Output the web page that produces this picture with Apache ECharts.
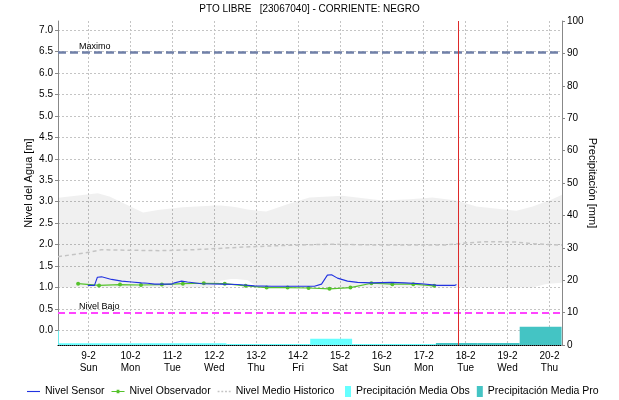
<!DOCTYPE html>
<html>
<head>
<meta charset="utf-8">
<title>PTO LIBRE - CORRIENTE: NEGRO</title>
<script src="https://cdn.jsdelivr.net/npm/echarts@6.0.0/dist/echarts.min.js"></script>
<style>
  html, body { margin: 0; padding: 0; background: #fff; }
  #chart { width: 619px; height: 400px; }
</style>
</head>
<body>
<div id="chart"></div>
<script>
// ===== datos (dia del mes de febrero, 9 = 9-2 00:00) =====
const tickDays = [9, 10, 11, 12, 13, 14, 15, 16, 17, 18, 19, 20];
const tickDates = ['9-2', '10-2', '11-2', '12-2', '13-2', '14-2', '15-2', '16-2', '17-2', '18-2', '19-2', '20-2'];
const tickWeekdays = ['Sun', 'Mon', 'Tue', 'Wed', 'Thu', 'Fri', 'Sat', 'Sun', 'Mon', 'Tue', 'Wed', 'Thu'];
const levelTicks = [0, 0.5, 1, 1.5, 2, 2.5, 3, 3.5, 4, 4.5, 5, 5.5, 6, 6.5, 7];

// nivel sensor [m]
const sensorDays = [8.98, 9.14, 9.21, 9.31, 9.55, 9.79, 10.03, 10.26, 10.41, 10.58, 10.98, 11.05, 11.22, 11.36, 11.70,
  12.17, 12.56, 12.96, 13.37, 13.75, 14.23, 14.39, 14.56, 14.70, 14.80, 14.94, 15.18, 15.42, 15.75, 16.23, 16.54,
  16.95, 17.33, 17.74, 17.78];
const sensorLevels = [1.05, 1.05, 1.24, 1.25, 1.19, 1.15, 1.13, 1.11, 1.10, 1.08, 1.08, 1.11, 1.15, 1.13, 1.09,
  1.08, 1.07, 1.04, 1.03, 1.03, 1.03, 1.03, 1.08, 1.29, 1.30, 1.22, 1.15, 1.12, 1.11, 1.12, 1.11,
  1.09, 1.05, 1.05, 1.07];

// nivel observador [m] (lecturas 6:00 y 18:00)
const obsDays = [8.75, 9.25, 9.75, 10.25, 10.75, 11.25, 11.75, 12.25, 12.75, 13.25, 13.75, 14.25, 14.75, 15.25,
  15.75, 16.25, 16.75, 17.25];
const obsLevels = [1.09, 1.05, 1.07, 1.06, 1.07, 1.09, 1.10, 1.09, 1.04, 1.00, 1.00, 0.99, 0.97, 1.00,
  1.10, 1.08, 1.08, 1.04];

// nivel medio historico [m]
const meanDays = [8.27, 9.0, 9.3, 10.7, 11.5, 12.05, 12.85, 13.65, 14.77, 16.0, 17.5, 18.0, 18.5, 19.2, 19.6, 20.3];
const meanLevels = [1.72, 1.82, 1.88, 1.86, 1.88, 1.91, 1.95, 1.98, 2.01, 1.99, 1.99, 2.04, 2.07, 2.06, 2.02, 1.99];

// banda historica (min / max) [m]
const histDays = [8.27, 9.22, 9.5, 10.3, 10.69, 11.24, 12.0, 12.15, 12.4, 12.53, 12.8, 13.05, 13.24, 13.8, 14.27,
  15.06, 16.02, 16.66, 17.21, 17.78, 18.26, 19.21, 19.6, 19.9, 20.0, 20.3];
const histHigh = [3.09, 3.2, 3.12, 2.75, 2.81, 2.87, 2.91, 2.91, 2.89, 2.87, 2.82, 2.79, 2.77, 2.96, 3.1,
  3.14, 3.03, 3.06, 3.1, 3.03, 2.89, 2.79, 2.89, 3.0, 3.03, 3.16];
const histLow = [1.0, 1.0, 1.0, 1.0, 1.0, 1.0, 1.0, 1.16, 1.2, 1.2, 1.17, 1.0, 1.0, 1.0, 1.0,
  1.0, 1.0, 1.0, 1.0, 1.0, 1.0, 1.0, 1.0, 1.08, 1.09, 1.11];

// precipitacion diaria (7:00 a 7:00) [mm]
const precObsStart = [7.29, 8.29, 9.29, 10.29, 11.29, 12.29, 13.29, 14.29, 15.29, 16.29];
const precObsValues = [4.5, 0.55, 0.55, 0.55, 0.55, 0.3, 0.3, 1.9, 0.3, 0.3];
const precProStart = [17.29, 18.29, 19.29];
const precProValues = [0.6, 0.6, 5.65];

const nivelMaximo = 6.48;
const nivelBajo = 0.42;
const ahora = 17.83;

// ===== construccion =====
const zip = (xs, ys) => xs.map((x, i) => [x, ys[i]]);
const FONT = "'Liberation Sans', Arial, sans-serif";
const GRID_LINE = { color: '#c4c4c4', type: [2, 2], width: 1 };
const LEGEND_TEXT = { fontSize: 10.5, color: '#000', fontFamily: FONT };

const precRender = (params, api) => {
  const start = api.coord([api.value(0), 0]);
  const end = api.coord([api.value(1), api.value(2)]);
  return {
    type: 'rect',
    shape: { x: start[0], y: end[1], width: end[0] - start[0], height: start[1] - end[1] },
    style: { fill: api.visual('color') }
  };
};

// banda historica como un solo poligono (max de ida, min de vuelta)
const bandRender = (params, api) => {
  if (params.dataIndex !== 0) return;
  const top = histDays.map((d, i) => api.coord([d, histHigh[i]]));
  const bottom = histDays.map((d, i) => api.coord([d, histLow[i]])).reverse();
  return {
    type: 'polygon',
    shape: { points: top.concat(bottom) },
    style: { fill: 'rgba(0, 0, 0, 0.06)' }
  };
};

const chart = echarts.init(document.getElementById('chart'));
chart.setOption({
  animation: false,
  textStyle: { fontFamily: FONT },
  title: {
    text: 'PTO LIBRE   [23067040] - CORRIENTE: NEGRO',
    left: 'center',
    top: 4,
    padding: 0,
    textStyle: { fontSize: 10, fontWeight: 'normal', color: '#000', fontFamily: FONT }
  },
  legend: [
    {
      data: [
        { name: 'Nivel Sensor', icon: 'path://M0,0H14V1.2H0Z' },
        { name: 'Nivel Observador', icon: 'path://M0,1.4H14V2.6H0ZM5.5,0H8.5V4H5.5Z' },
        { name: 'Nivel Medio Historico', icon: 'path://M0,0H2V1.4H0ZM4,0H6V1.4H4ZM8,0H10V1.4H8ZM12,0H14V1.4H12Z' }
      ],
      left: 27, top: 386, padding: 0,
      itemWidth: 13, itemHeight: 10, itemGap: 7,
      selectedMode: false,
      textStyle: LEGEND_TEXT
    },
    {
      data: ['Precipitación Media Obs', 'Precipitación Media Pro'],
      left: 345, top: 386, padding: 0,
      icon: 'rect', itemWidth: 6, itemHeight: 11, itemGap: 7,
      selectedMode: false,
      textStyle: LEGEND_TEXT
    }
  ],
  grid: { left: 58, right: 57, top: 21, bottom: 55 },
  xAxis: {
    type: 'value',
    min: 8.27,
    max: 20.3,
    axisLine: { onZero: false, lineStyle: { color: '#000', type: 'dotted', width: 1 } },
    axisTick: { show: false, customValues: tickDays },
    axisLabel: {
      customValues: tickDays,
      margin: 5,
      fontSize: 10,
      lineHeight: 12,
      color: '#000',
      formatter: v => {
        const i = tickDays.indexOf(v);
        return tickDates[i] + '\n' + tickWeekdays[i];
      }
    },
    splitLine: { show: true, lineStyle: GRID_LINE }
  },
  yAxis: [
    {
      type: 'value',
      min: -0.338,
      max: 7.21,
      position: 'left',
      name: 'Nivel del Agua [m]',
      nameLocation: 'middle',
      nameGap: 24,
      nameMoveOverlap: false,
      nameTextStyle: { fontSize: 11, color: '#000', fontFamily: FONT },
      axisLine: { show: true, lineStyle: { color: '#888' } },
      axisTick: { show: true, length: 3, customValues: levelTicks, lineStyle: { color: '#888' } },
      axisLabel: {
        customValues: levelTicks,
        fontSize: 10,
        margin: 5,
        color: '#000',
        formatter: v => v.toFixed(1)
      },
      splitLine: { show: true, lineStyle: GRID_LINE }
    },
    {
      type: 'value',
      min: 0,
      max: 100,
      interval: 10,
      position: 'right',
      name: 'Precipitación [mm]',
      nameLocation: 'middle',
      nameRotate: -90,
      nameGap: 25,
      nameMoveOverlap: false,
      nameTextStyle: { fontSize: 11, color: '#000', fontFamily: FONT },
      axisLine: { show: true, lineStyle: { color: '#888' } },
      axisTick: { show: true, length: 3, lineStyle: { color: '#888' } },
      axisLabel: { fontSize: 10, margin: 5, color: '#000' },
      splitLine: { show: false }
    }
  ],
  series: [
    {
      name: 'bandaHistorica',
      type: 'custom',
      renderItem: bandRender,
      clip: true,
      silent: true,
      encode: { x: 0, y: 1 },
      data: zip(histDays, histHigh),
      z: 1
    },
    {
      name: 'Nivel Medio Historico',
      type: 'line',
      data: zip(meanDays, meanLevels),
      symbol: 'none',
      itemStyle: { color: '#c4c4c4' },
      lineStyle: { color: '#c4c4c4', width: 1.5, type: [4, 3] },
      z: 2
    },
    {
      name: 'Precipitación Media Obs',
      type: 'custom',
      yAxisIndex: 1,
      clip: true,
      renderItem: precRender,
      encode: { x: [0, 1], y: 2 },
      itemStyle: { color: '#66ffff' },
      data: precObsStart.map((s, i) => [s, s + 1, precObsValues[i]]),
      z: 2
    },
    {
      name: 'Precipitación Media Pro',
      type: 'custom',
      yAxisIndex: 1,
      clip: true,
      renderItem: precRender,
      encode: { x: [0, 1], y: 2 },
      itemStyle: { color: '#44c4c4' },
      data: precProStart.map((s, i) => [s, s + 1, precProValues[i]]),
      z: 2
    },
    {
      name: 'Nivel Sensor',
      type: 'line',
      data: zip(sensorDays, sensorLevels),
      symbol: 'none',
      itemStyle: { color: '#2233e0' },
      lineStyle: { color: '#2233e0', width: 1.1 },
      z: 4,
      markLine: {
        silent: true,
        symbol: ['none', 'none'],
        data: [
          {
            yAxis: nivelMaximo,
            lineStyle: { color: '#7080a8', width: 2.5, type: [8, 4] },
            label: { show: true, formatter: 'Maximo', position: 'insideStartTop', distance: [21, 1], fontSize: 9, color: '#000' }
          },
          {
            yAxis: nivelBajo,
            lineStyle: { color: '#ff44ff', width: 2, type: [7, 4] },
            label: { show: true, formatter: 'Nivel Bajo', position: 'insideStartTop', distance: [21, 1], fontSize: 9, color: '#000' }
          },
          {
            xAxis: ahora,
            lineStyle: { color: '#dd2a2a', width: 1, type: 'solid' },
            label: { show: false }
          }
        ]
      }
    },
    {
      name: 'Nivel Observador',
      type: 'line',
      data: zip(obsDays, obsLevels),
      symbol: 'circle',
      symbolSize: 4,
      itemStyle: { color: '#55c22c' },
      lineStyle: { color: '#55c22c', width: 1.2 },
      z: 3
    }
  ]
});
</script>
</body>
</html>
